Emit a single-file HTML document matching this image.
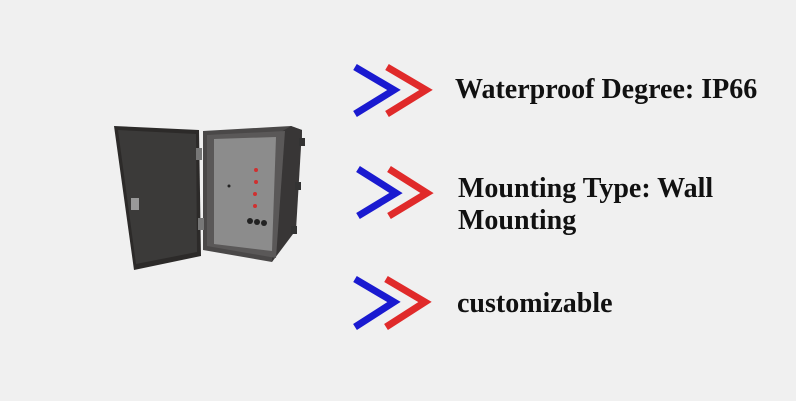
<!DOCTYPE html>
<html><head><style>
body{margin:0;width:796px;height:401px;background:#f0f0f0;overflow:hidden;position:relative;font-family:"Liberation Serif",serif}
.t{position:absolute;font-weight:bold;font-size:28px;color:#111;line-height:32px;white-space:nowrap}
</style></head><body>
<svg width="796" height="401" style="position:absolute;left:0;top:0">
<g fill="none" stroke-width="7" stroke-linejoin="miter">
<polyline points="355,67 394,90 355,114" stroke="#1a1ad0"/>
<polyline points="387,67 426,90 387,114" stroke="#e02a2a"/>
<polyline points="358,169 396,193 358,216" stroke="#1a1ad0"/>
<polyline points="389,169 427,193 389,216" stroke="#e02a2a"/>
<polyline points="355,279 394,302 355,327" stroke="#1a1ad0"/>
<polyline points="386,279 425,302 386,327" stroke="#e02a2a"/>
</g>
<polygon points="114,126 199,130 201,256 134,270" fill="#2c2a29"/>
<polygon points="118,130 196,134 197,252 136,264" fill="#3b3a39"/>
<polygon points="203,131 291,126 302,130 302,140 272,262 203,250" fill="#4a4848"/>
<polygon points="291,126 302,130 296,230 272,262 276,135" fill="#383636"/>
<polygon points="207,135 285,131 276,258 207,246" fill="#5a5858"/>
<polygon points="214,139 276,137 272,251 214,244" fill="#8c8c8c"/>
<rect x="196" y="148" width="6" height="12" fill="#777"/>
<rect x="198" y="218" width="6" height="12" fill="#777"/>
<rect x="131" y="198" width="8" height="12" fill="#999"/>
<rect x="299" y="138" width="6" height="8" fill="#333"/>
<rect x="295" y="182" width="6" height="8" fill="#333"/>
<rect x="291" y="226" width="6" height="8" fill="#333"/>
<circle cx="229" cy="186" r="1.5" fill="#222"/>
<g fill="#d03030"><circle cx="256" cy="170" r="2"/><circle cx="256" cy="182" r="2"/><circle cx="255" cy="194" r="2"/><circle cx="255" cy="206" r="2"/></g>
<g fill="#222"><circle cx="250" cy="221" r="3"/><circle cx="257" cy="222" r="3"/><circle cx="264" cy="223" r="3"/></g>
</svg>
<div class="t" style="left:455px;top:74px">Waterproof Degree: IP66</div>
<div class="t" style="left:458px;top:173px">Mounting Type: Wall<br>Mounting</div>
<div class="t" style="left:457px;top:288px">customizable</div>
</body></html>
